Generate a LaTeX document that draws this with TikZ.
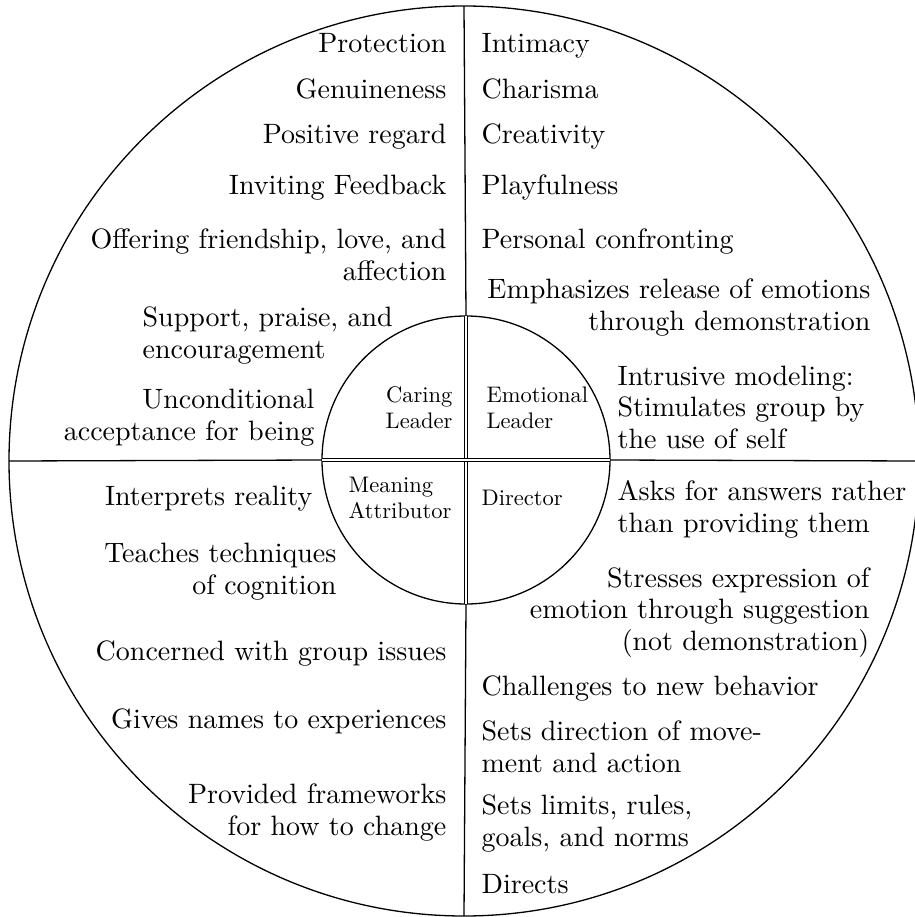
\documentclass[tikz,border=0pt]{standalone}
\usepackage{fontspec}
\setmainfont{lmroman10-regular.otf}
\usepackage{tikz}
\usetikzlibrary{positioning}
\newcommand{\itemfont}{\fontsize{28}{31.5}\selectfont}
\newcommand{\rolefont}{\fontsize{22.5}{25.5}\selectfont}

\begin{document}
\begin{tikzpicture}[x=1pt,y=-1pt,line width=1.3pt,
                    lft/.style={anchor=base west,align=left,inner sep=0pt,font=\itemfont},
                    rgt/.style={anchor=base east,align=right,inner sep=0pt,font=\itemfont},
                    rolel/.style={anchor=base west,align=left,inner sep=0pt,font=\rolefont},
                    roler/.style={anchor=base east,align=right,inner sep=0pt,font=\rolefont},
                    ring/.style={draw,circle,inner sep=0pt,outer sep=0pt},
                    twin/.style={double,double distance=2.2pt,line width=0.9pt}]
  \useasboundingbox (0,0) rectangle (914,917);
  % circles
  \node[ring,minimum size=910pt] (outer) at (464,461) {};
  \node[ring,minimum size=288pt] (inner) at (466,460) {};
  % axes
  \draw (outer.north) -- (inner.north);
  \draw (inner.south) -- (outer.south);
  \draw (outer.west) -- (inner.west);
  \draw (inner.east) -- (outer.east);
  \draw[twin] (inner.north) -- (inner.south);
  \draw[twin] (inner.west) -- (inner.east);
  % roles (base = last line)
  \node[roler] (caring) at (453,428) {Caring\\Leader};
  \node[rolel] (emot) at (486,428) {Emotional\\Leader};
  \node[rolel] (meaning) at (348,518) {Meaning\\Attributor};
  \node[rolel] (director) at (481,505) {Director};
  % caring leader
  \node[rgt] (prot) at (447,53) {Protection};
  \node[rgt] (genu) at (447,99) {Genuineness};
  \node[rgt] (posreg) at (447,144) {Positive regard};
  \node[rgt] (invfb) at (447,195) {Inviting Feedback};
  \node[rgt] (offer) at (447,280) {Offering friendship, love, and\\affection};
  \node[lft] (support) at (142,358) {Support, praise, and\\encouragement};
  \node[rgt] (uncond) at (315,440) {Unconditional\\acceptance for being};
  % emotional leader
  \node[lft] (intim) at (481,53) {Intimacy};
  \node[lft] (charis) at (481,99) {Charisma};
  \node[lft] (creat) at (481,144) {Creativity};
  \node[lft] (playf) at (481,195) {Playfulness};
  \node[lft] (persconf) at (481,248) {Personal confronting};
  \node[rgt] (emph) at (871,330) {Emphasizes release of emotions\\through demonstration};
  \node[lft] (intrus) at (617,448) {Intrusive modeling:\\Stimulates group by\\the use of self};
  % meaning attributor
  \node[rgt] (interp) at (313,505) {Interprets reality};
  \node[rgt] (teach) at (337,594) {Teaches techniques\\of cognition};
  \node[rgt] (concern) at (447,660) {Concerned with group issues};
  \node[rgt] (gives) at (447,728) {Gives names to experiences};
  \node[rgt] (provided) at (447,835) {Provided frameworks\\for how to change};
  % director
  \node[lft] (asks) at (617,532) {Asks for answers rather\\than providing them};
  \node[rgt] (stresses) at (870,650) {Stresses expression of\\emotion through suggestion\\(not demonstration)};
  \node[lft] (challenges) at (481,695) {Challenges to new behavior};
  \node[lft] (setsdir) at (481,772) {Sets direction of move-\\ment and action};
  \node[lft] (setslim) at (481,846) {Sets limits, rules,\\goals, and norms};
  \node[lft] (directs) at (481,893) {Directs};
\end{tikzpicture}
\end{document}
